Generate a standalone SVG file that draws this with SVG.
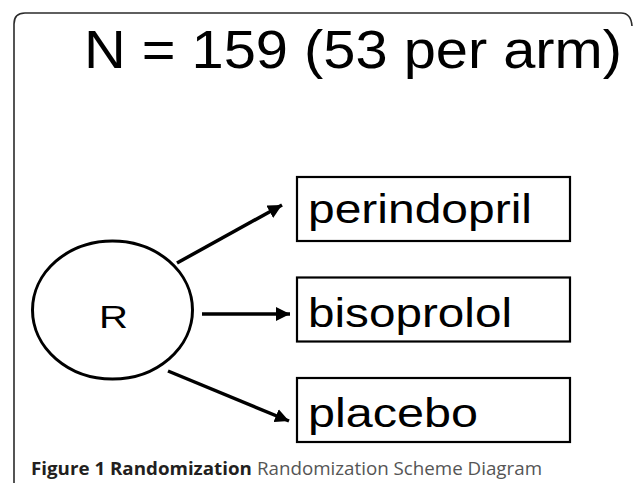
<svg xmlns="http://www.w3.org/2000/svg" width="636" height="483" viewBox="0 0 636 483">
<style>
.frame{fill:none;stroke:#2b2b2b;stroke-width:1.6}
.box{fill:#fff;stroke:#000;stroke-width:2.2}
.ell{fill:#fff;stroke:#000;stroke-width:3}
.lbl{font-family:"Liberation Sans",Arial,sans-serif;fill:#000}
.conn line{stroke:#000;stroke-width:3.5}
.cap{font-family:"Open Sans",sans-serif;font-size:18.5px}
</style>
<defs>
<marker id="ah" markerUnits="userSpaceOnUse" markerWidth="16" markerHeight="14" refX="14" refY="7" orient="auto">
<path d="M0,0 L14,7 L0,14 z" fill="#000"/>
</marker>
</defs>
<path class="frame" d="M14,483 V24 Q14,13 25,13 H621 Q631,13 632,26"/>
<text class="lbl" x="84" y="68" font-size="53" textLength="538" lengthAdjust="spacingAndGlyphs">N = 159 (53 per arm)</text>
<g class="conn">
<line x1="177" y1="263" x2="282" y2="205" marker-end="url(#ah)"/>
<line x1="202" y1="314" x2="290" y2="314" marker-end="url(#ah)"/>
<line x1="168" y1="371" x2="289" y2="421" marker-end="url(#ah)"/>
</g>
<g id="node-R">
<ellipse class="ell" cx="112.5" cy="310" rx="80" ry="69"/>
<text class="lbl" x="99" y="327.5" font-size="32" textLength="29" lengthAdjust="spacingAndGlyphs">R</text>
</g>
<g id="node-perindopril">
<rect class="box" x="297" y="177" width="273" height="64"/>
<text class="lbl" x="308" y="223" font-size="41" textLength="224" lengthAdjust="spacingAndGlyphs">perindopril</text>
</g>
<g id="node-bisoprolol">
<rect class="box" x="297" y="277.5" width="273" height="64"/>
<text class="lbl" x="308" y="326.5" font-size="41" textLength="204" lengthAdjust="spacingAndGlyphs">bisoprolol</text>
</g>
<g id="node-placebo">
<rect class="box" x="297" y="378" width="273" height="64"/>
<text class="lbl" x="308" y="427" font-size="41" textLength="170" lengthAdjust="spacingAndGlyphs">placebo</text>
</g>
<text class="cap" x="31" y="475" textLength="511" lengthAdjust="spacingAndGlyphs"><tspan font-weight="bold" fill="#231f20">Figure 1 Randomization</tspan><tspan fill="#555" dx="5">Randomization Scheme Diagram</tspan></text>
</svg>
